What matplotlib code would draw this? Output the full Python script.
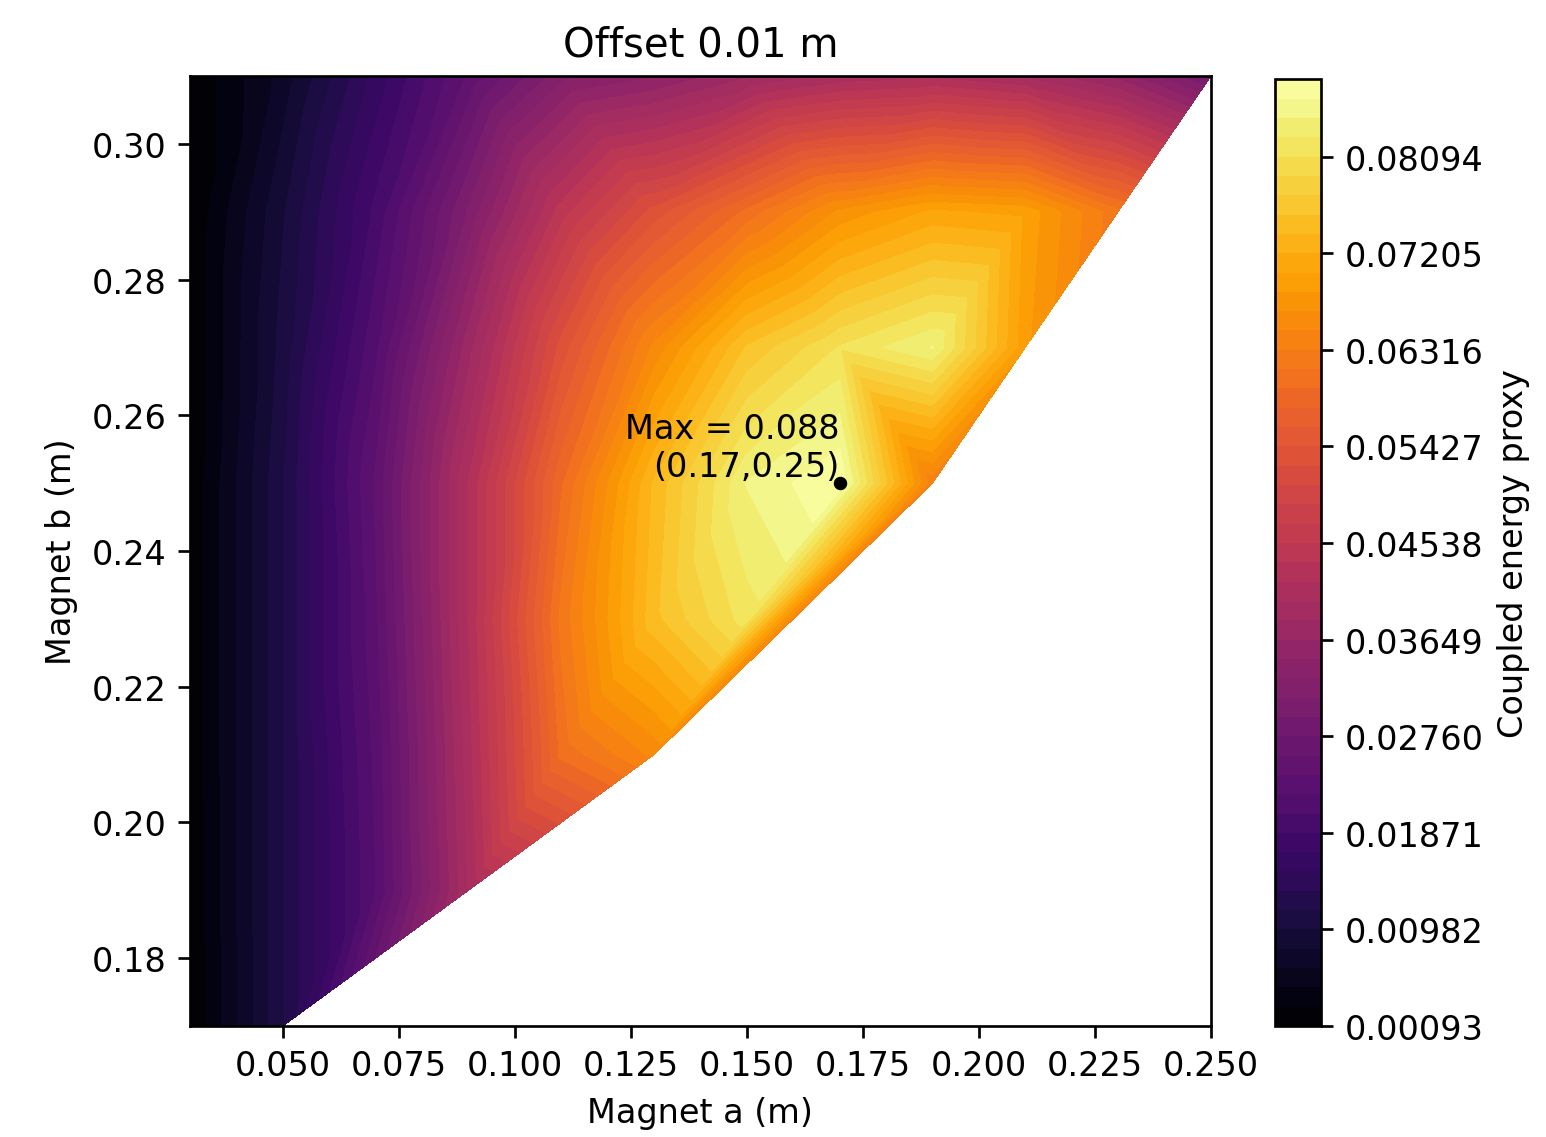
import numpy as np
import matplotlib
matplotlib.use("Agg")
import matplotlib.pyplot as plt
import matplotlib.tri as mtri

# Grid of magnet sizes (m)
magnet_a = [0.03, 0.05, 0.07, 0.09, 0.11, 0.13, 0.15, 0.17, 0.19, 0.21, 0.23, 0.25]
magnet_b = [0.17, 0.19, 0.21, 0.23, 0.25, 0.27, 0.29, 0.31]

N = np.nan
# Coupled energy proxy, one row per magnet_b value (NaN = infeasible geometry)
energy_b017 = [0.00093, 0.0114, N, N, N, N, N, N, N, N, N, N]
energy_b019 = [0.0011, 0.0114, 0.0222, 0.0401, N, N, N, N, N, N, N, N]
energy_b021 = [0.0012, 0.0114, 0.0227, 0.0410, 0.0601, 0.0654, N, N, N, N, N, N]
energy_b023 = [0.0012, 0.0114, 0.0236, 0.0419, 0.0619, 0.0750, 0.0819, N, N, N, N, N]
energy_b025 = [0.0012, 0.0114, 0.0244, 0.0419, 0.0593, 0.0741, 0.0846, 0.08805, 0.0636, N, N, N]
energy_b027 = [0.0011, 0.0105, 0.0218, 0.0375, 0.0532, 0.0654, 0.0758, 0.0811, 0.0846, 0.0689, N, N]
energy_b029 = [0.0010, 0.0096, 0.0192, 0.0314, 0.0445, 0.0532, 0.0601, 0.0671, 0.0706, 0.0697, 0.0619, N]
energy_b031 = [0.00095, 0.0070, 0.0157, 0.0244, 0.0323, 0.0345, 0.0380, 0.0405, 0.0414, 0.0397, 0.0358, 0.0288]

offset = 0.01

energy = np.array([energy_b017, energy_b019, energy_b021, energy_b023,
                   energy_b025, energy_b027, energy_b029, energy_b031])
A, B = np.meshgrid(magnet_a, magnet_b)
ok = np.isfinite(energy)
x, y, z = A[ok], B[ok], energy[ok]
tri = mtri.Triangulation(x, y)

zmin, zmax = z.min(), z.max()
levels = np.linspace(zmin, zmax, 50)
imax = np.argmax(z)

fig = plt.figure(figsize=(6.4, 4.708), dpi=241.7)
ax = fig.add_axes([0.1228, 0.0975, 0.6600, 0.8348])
cax = fig.add_axes([0.8242, 0.0975, 0.0297, 0.8320])

cs = ax.tricontourf(tri, z, levels=levels, cmap="inferno")
ax.plot(x[imax], y[imax], "ko", ms=3)
ax.text(x[imax], y[imax], f"Max = {zmax:.3f}\n({x[imax]:.2f},{y[imax]:.2f})",
        ha="right", va="bottom", fontsize=10)

ax.set_xlim(0.03, 0.25)
ax.set_ylim(0.17, 0.31)
ax.set_xticks([0.05, 0.075, 0.1, 0.125, 0.15, 0.175, 0.2, 0.225, 0.25])
ax.set_yticks([0.18, 0.20, 0.22, 0.24, 0.26, 0.28, 0.30])
ax.xaxis.set_major_formatter(matplotlib.ticker.FormatStrFormatter("%.3f"))
ax.yaxis.set_major_formatter(matplotlib.ticker.FormatStrFormatter("%.2f"))
ax.set_xlabel("Magnet a (m)")
ax.set_ylabel("Magnet b (m)")
ax.set_title(f"Offset {offset} m")

cb = fig.colorbar(cs, cax=cax, ticks=levels[::5], format="%.5f")
cb.set_label("Coupled energy proxy")

fig.savefig("out.png", dpi=241.7)
